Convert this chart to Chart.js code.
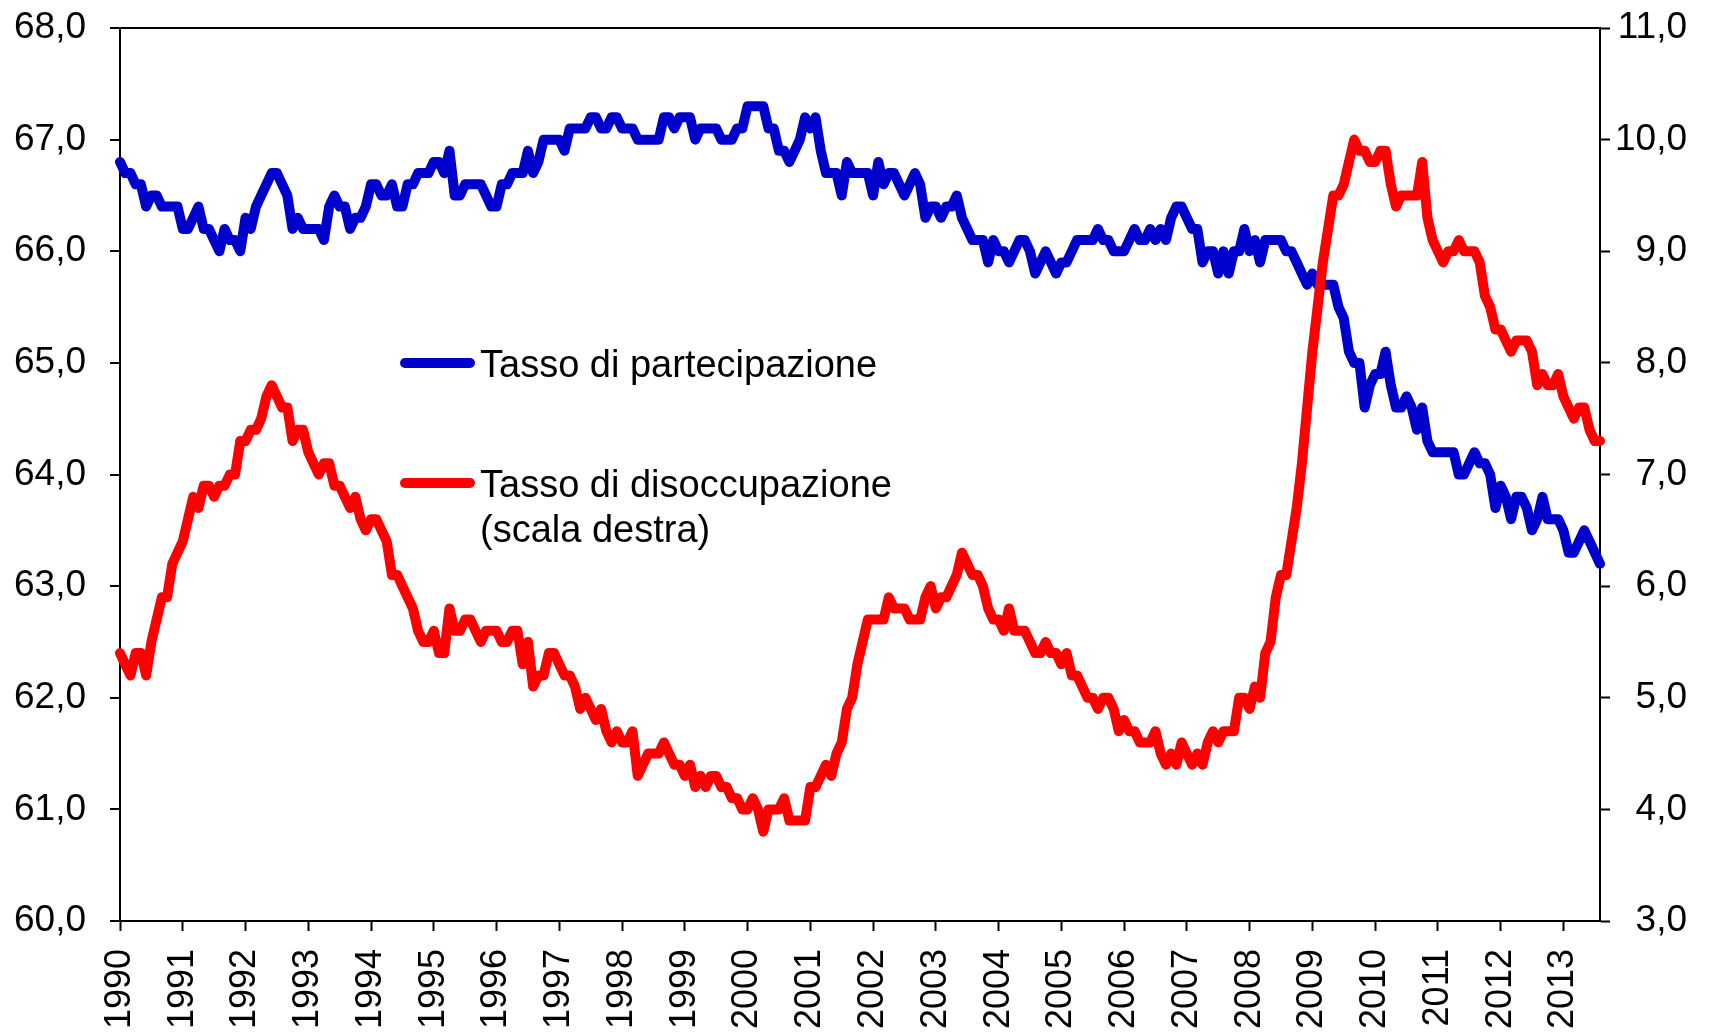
<!DOCTYPE html>
<html lang="it">
<head>
<meta charset="utf-8">
<title>Tasso di partecipazione e tasso di disoccupazione</title>
<script src="https://cdn.jsdelivr.net/npm/chart.js@4.4.1/dist/chart.umd.min.js"></script>
<style>
  html, body { margin: 0; padding: 0; background: #fff; }
  #contenitore { width: 1713px; height: 1034px; position: relative; }
</style>
</head>
<body>
<div id="contenitore"><canvas id="grafico"></canvas></div>
<script>
  // Etichette dell'asse x (un'etichetta per anno, dati mensili).
  var ANNI = ["1990", "1991", "1992", "1993", "1994", "1995", "1996", "1997",
    "1998", "1999", "2000", "2001", "2002", "2003", "2004", "2005", "2006",
    "2007", "2008", "2009", "2010", "2011", "2012", "2013"];
  var MESI_ULTIMO_ANNO = 8; // gen-ago 2013

  // Tasso di partecipazione (scala sinistra), una riga per anno.
  var PARTECIPAZIONE = [
    66.8, 66.7, 66.7, 66.6, 66.6, 66.4, 66.5, 66.5, 66.4, 66.4, 66.4, 66.4,
    66.2, 66.2, 66.3, 66.4, 66.2, 66.2, 66.1, 66.0, 66.2, 66.1, 66.1, 66.0,
    66.3, 66.2, 66.4, 66.5, 66.6, 66.7, 66.7, 66.6, 66.5, 66.2, 66.3, 66.2,
    66.2, 66.2, 66.2, 66.1, 66.4, 66.5, 66.4, 66.4, 66.2, 66.3, 66.3, 66.4,
    66.6, 66.6, 66.5, 66.5, 66.6, 66.4, 66.4, 66.6, 66.6, 66.7, 66.7, 66.7,
    66.8, 66.8, 66.7, 66.9, 66.5, 66.5, 66.6, 66.6, 66.6, 66.6, 66.5, 66.4,
    66.4, 66.6, 66.6, 66.7, 66.7, 66.7, 66.9, 66.7, 66.8, 67.0, 67.0, 67.0,
    67.0, 66.9, 67.1, 67.1, 67.1, 67.1, 67.2, 67.2, 67.1, 67.1, 67.2, 67.2,
    67.1, 67.1, 67.1, 67.0, 67.0, 67.0, 67.0, 67.0, 67.2, 67.2, 67.1, 67.2,
    67.2, 67.2, 67.0, 67.1, 67.1, 67.1, 67.1, 67.0, 67.0, 67.0, 67.1, 67.1,
    67.3, 67.3, 67.3, 67.3, 67.1, 67.1, 66.9, 66.9, 66.8, 66.9, 67.0, 67.2,
    67.1, 67.2, 66.9, 66.7, 66.7, 66.7, 66.5, 66.8, 66.7, 66.7, 66.7, 66.7,
    66.5, 66.8, 66.6, 66.7, 66.7, 66.6, 66.5, 66.6, 66.7, 66.6, 66.3, 66.4,
    66.4, 66.3, 66.4, 66.4, 66.5, 66.3, 66.2, 66.1, 66.1, 66.1, 65.9, 66.1,
    66.0, 66.0, 65.9, 66.0, 66.1, 66.1, 66.0, 65.8, 65.9, 66.0, 65.9, 65.8,
    65.9, 65.9, 66.0, 66.1, 66.1, 66.1, 66.1, 66.2, 66.1, 66.1, 66.0, 66.0,
    66.0, 66.1, 66.2, 66.1, 66.1, 66.2, 66.1, 66.2, 66.1, 66.3, 66.4, 66.4,
    66.3, 66.2, 66.2, 65.9, 66.0, 66.0, 65.8, 66.0, 65.8, 66.0, 66.0, 66.2,
    66.0, 66.1, 65.9, 66.1, 66.1, 66.1, 66.1, 66.0, 66.0, 65.9, 65.8, 65.7,
    65.8, 65.7, 65.7, 65.7, 65.7, 65.5, 65.4, 65.1, 65.0, 65.0, 64.6, 64.8,
    64.9, 64.9, 65.1, 64.8, 64.6, 64.6, 64.7, 64.6, 64.4, 64.6, 64.3, 64.2,
    64.2, 64.2, 64.2, 64.2, 64.0, 64.0, 64.1, 64.2, 64.1, 64.1, 64.0, 63.7,
    63.9, 63.8, 63.6, 63.8, 63.8, 63.7, 63.5, 63.6, 63.8, 63.6, 63.6, 63.6,
    63.5, 63.3, 63.3, 63.4, 63.5, 63.4, 63.3, 63.2
  ];

  // Tasso di disoccupazione (scala destra).
  var DISOCCUPAZIONE = [
    5.4, 5.3, 5.2, 5.4, 5.4, 5.2, 5.5, 5.7, 5.9, 5.9, 6.2, 6.3,
    6.4, 6.6, 6.8, 6.7, 6.9, 6.9, 6.8, 6.9, 6.9, 7.0, 7.0, 7.3,
    7.3, 7.4, 7.4, 7.5, 7.7, 7.8, 7.7, 7.6, 7.6, 7.3, 7.4, 7.4,
    7.2, 7.1, 7.0, 7.1, 7.1, 6.9, 6.9, 6.8, 6.7, 6.8, 6.6, 6.5,
    6.6, 6.6, 6.5, 6.4, 6.1, 6.1, 6.0, 5.9, 5.8, 5.6, 5.5, 5.5,
    5.6, 5.4, 5.4, 5.8, 5.6, 5.6, 5.7, 5.7, 5.6, 5.5, 5.6, 5.6,
    5.6, 5.5, 5.5, 5.6, 5.6, 5.3, 5.5, 5.1, 5.2, 5.2, 5.4, 5.4,
    5.3, 5.2, 5.2, 5.1, 4.9, 5.0, 4.9, 4.8, 4.9, 4.7, 4.6, 4.7,
    4.6, 4.6, 4.7, 4.3, 4.4, 4.5, 4.5, 4.5, 4.6, 4.5, 4.4, 4.4,
    4.3, 4.4, 4.2, 4.3, 4.2, 4.3, 4.3, 4.2, 4.2, 4.1, 4.1, 4.0,
    4.0, 4.1, 4.0, 3.8, 4.0, 4.0, 4.0, 4.1, 3.9, 3.9, 3.9, 3.9,
    4.2, 4.2, 4.3, 4.4, 4.3, 4.5, 4.6, 4.9, 5.0, 5.3, 5.5, 5.7,
    5.7, 5.7, 5.7, 5.9, 5.8, 5.8, 5.8, 5.7, 5.7, 5.7, 5.9, 6.0,
    5.8, 5.9, 5.9, 6.0, 6.1, 6.3, 6.2, 6.1, 6.1, 6.0, 5.8, 5.7,
    5.7, 5.6, 5.8, 5.6, 5.6, 5.6, 5.5, 5.4, 5.4, 5.5, 5.4, 5.4,
    5.3, 5.4, 5.2, 5.2, 5.1, 5.0, 5.0, 4.9, 5.0, 5.0, 4.9, 4.7,
    4.8, 4.7, 4.7, 4.6, 4.6, 4.6, 4.7, 4.5, 4.4, 4.5, 4.4, 4.6,
    4.5, 4.4, 4.5, 4.4, 4.6, 4.7, 4.6, 4.7, 4.7, 4.7, 5.0, 5.0,
    4.9, 5.1, 5.0, 5.4, 5.5, 5.9, 6.1, 6.1, 6.4, 6.7, 7.1, 7.6,
    8.1, 8.5, 8.9, 9.2, 9.5, 9.5, 9.6, 9.8, 10.0, 9.9, 9.9, 9.8,
    9.8, 9.9, 9.9, 9.6, 9.4, 9.5, 9.5, 9.5, 9.5, 9.8, 9.3, 9.1,
    9.0, 8.9, 9.0, 9.0, 9.1, 9.0, 9.0, 9.0, 8.9, 8.6, 8.5, 8.3,
    8.3, 8.2, 8.1, 8.2, 8.2, 8.2, 8.1, 7.8, 7.9, 7.8, 7.8, 7.9,
    7.7, 7.6, 7.5, 7.6, 7.6, 7.4, 7.3, 7.3
  ];

  var VOCI = [
    { righe: ["Tasso di partecipazione"], colore: "#0000cc" },
    { righe: ["Tasso di disoccupazione", "(scala destra)"], colore: "#ff0000" }
  ];

  // Categorie mensili "AAAA-MM".
  var MESI = [];
  ANNI.forEach(function (anno, i) {
    var n = i === ANNI.length - 1 ? MESI_ULTIMO_ANNO : 12;
    for (var m = 1; m <= n; m++) { MESI.push(anno + "-" + (m < 10 ? "0" + m : m)); }
  });

  function virgola(v) { return v.toFixed(1).replace(".", ","); }

  // Legenda disegnata dentro l'area del grafico, come nell'originale.
  var legenda = {
    id: "legenda",
    afterDatasetsDraw: function (chart) {
      var ctx = chart.ctx;
      var posY = [363, 483];
      ctx.save();
      ctx.lineCap = "round";
      ctx.lineWidth = 10;
      ctx.font = '38px "Liberation Sans", Arial, sans-serif';
      ctx.textBaseline = "alphabetic";
      ctx.textAlign = "left";
      VOCI.forEach(function (voce, i) {
        ctx.strokeStyle = voce.colore;
        ctx.beginPath();
        ctx.moveTo(405, posY[i]);
        ctx.lineTo(470, posY[i]);
        ctx.stroke();
        ctx.fillStyle = "#000";
        voce.righe.forEach(function (testo, r) {
          ctx.fillText(testo, 480, posY[i] + 14 + r * 45);
        });
      });
      ctx.restore();
    }
  };

  function sistemaY(larghezza) {
    return function (s) {
      s.width = larghezza;
      s.paddingTop = 0;
      s.paddingBottom = 0;
    };
  }

  Chart.defaults.font.family = '"Liberation Sans", Arial, sans-serif';
  Chart.defaults.font.size = 36;
  Chart.defaults.color = "#000";

  new Chart(document.getElementById("grafico"), {
    type: "line",
    data: {
      labels: MESI,
      datasets: [{
        label: "Tasso di partecipazione",
        data: PARTECIPAZIONE,
        yAxisID: "y",
        borderColor: "#0000cc",
        borderWidth: 10,
        order: 2
      }, {
        label: "Tasso di disoccupazione (scala destra)",
        data: DISOCCUPAZIONE,
        yAxisID: "y1",
        borderColor: "#ff0000",
        borderWidth: 10,
        order: 1
      }]
    },
    options: {
      responsive: true,
      maintainAspectRatio: false,
      animation: false,
      layout: { padding: { top: 28, right: 26, bottom: 0, left: 0 } },
      elements: {
        point: { radius: 0, hoverRadius: 0 },
        line: { tension: 0, borderJoinStyle: "round", borderCapStyle: "round" }
      },
      plugins: { legend: { display: false }, tooltip: { enabled: false } },
      scales: {
        x: {
          type: "category",
          offset: false,
          border: { display: true, color: "#000", width: 2 },
          grid: { drawOnChartArea: false, tickColor: "#000", tickWidth: 2, tickLength: 10 },
          ticks: {
            autoSkip: false,
            minRotation: 90,
            maxRotation: 90,
            padding: 18,
            callback: function (value) {
              var lab = this.getLabelForValue(value);
              return lab.slice(5) === "01" ? lab.slice(0, 4) : null;
            }
          },
          afterFit: function (s) {
            s.height = 113;
            s.paddingLeft = 0;
            s.paddingRight = 0;
          }
        },
        y: {
          position: "left",
          min: 60,
          max: 68,
          border: { display: true, color: "#000", width: 2 },
          grid: {
            drawOnChartArea: true,
            color: function (c) { return c.tick && c.tick.value === 68 ? "#000" : "rgba(0,0,0,0)"; },
            lineWidth: 2,
            tickColor: "#000",
            tickWidth: 2,
            tickLength: 10
          },
          ticks: { stepSize: 1, padding: 24, font: { size: 37 }, callback: virgola },
          afterFit: sistemaY(120)
        },
        y1: {
          position: "right",
          min: 3,
          max: 11,
          border: { display: true, color: "#000", width: 2 },
          grid: { drawOnChartArea: false, tickColor: "#000", tickWidth: 2, tickLength: 10 },
          ticks: { stepSize: 1, padding: 7, crossAlign: "far", font: { size: 37 }, callback: virgola },
          afterFit: sistemaY(87)
        }
      }
    },
    plugins: [legenda]
  });
</script>
</body>
</html>
